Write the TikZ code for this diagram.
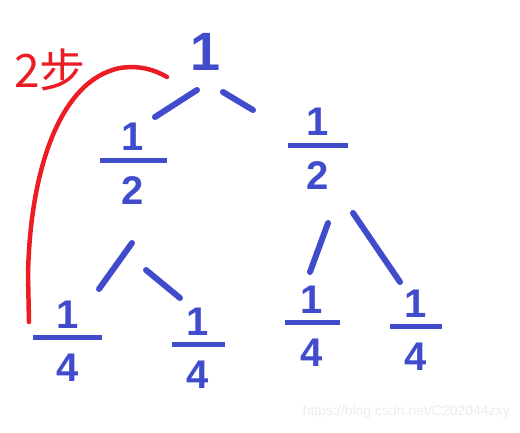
\documentclass[tikz,border=0pt]{standalone}
\usepackage{fontspec}
\setmainfont{Liberation Sans}
\newfontfamily\cjk{Noto Sans CJK SC}
\usetikzlibrary{calc}
\definecolor{handblue}{RGB}{64,76,204}
\definecolor{handred}{RGB}{236,28,36}
\definecolor{wmgray}{RGB}{236,236,236}
\newcommand\frc[3]{\vbox{\hbox to #3{\hss#1\hss}\kern7pt\hrule height 5pt\kern14pt\hbox to #3{\hss#2\hss}}}
\tikzset{
  numnode/.style={text=handblue, inner sep=0pt, font=\fontsize{40}{40}\bfseries\selectfont},
  rootnode/.style={text=handblue, inner sep=0pt, font=\fontsize{54}{54}\bfseries\selectfont},
  edge/.style={draw=handblue, line width=6pt, line cap=round},
  redline/.style={draw=handred, line width=4.5pt, line cap=round, line join=round},
}
\begin{document}
\begin{tikzpicture}[x=1pt,y=-1pt]
\useasboundingbox (0,0) rectangle (520,432);
\node[rootnode] (r) at (206,52) {1};
\node[numnode] (lh) at (133,164) {\frc{1}{2}{67pt}};
\node[numnode] (rh) at (318,149) {\frc{1}{2}{60pt}};
\node[numnode] (ll) at (68,341) {\frc{1}{4}{69pt}};
\node[numnode] (lr) at (198,348) {\frc{1}{4}{53pt}};
\node[numnode] (rl) at (312,326) {\frc{1}{4}{55pt}};
\node[numnode] (rr) at (416,330) {\frc{1}{4}{52pt}};
% edges
\draw[edge] ($(r)+(-9,38)$) -- ($(lh)+(22,-47)$);
\draw[edge] ($(r)+(17,40)$) -- ($(rh)+(-65,-39)$);
\draw[edge] ($(lh)+(-1,79)$) -- ($(ll)+(31,-52)$);
\draw[edge] ($(lh)+(13,106)$) -- ($(lr)+(-18,-50)$);
\draw[edge] ($(rh)+(10,74)$) -- ($(rl)+(-2,-54)$);
\draw[edge] ($(rh)+(35,64)$) -- ($(rr)+(-16,-48)$);
% red path
\draw[redline] ($(ll)+(-39,-19)$) -- (28,275) .. controls (30,170) and (60,80) .. (120,68) .. controls (140,65) and (155,70) .. ($(r)+(-39,25)$);
\node[text=handred, inner sep=0pt, font=\cjk\fontsize{46}{46}\selectfont] (lbl) at (50,70) {2步};
% watermark
\node[text=wmgray, inner sep=0pt, anchor=east, font=\fontsize{14}{14}\selectfont] (wm) at (510,412) {https://blog.csdn.net/C202044zxy};
\end{tikzpicture}
\end{document}
